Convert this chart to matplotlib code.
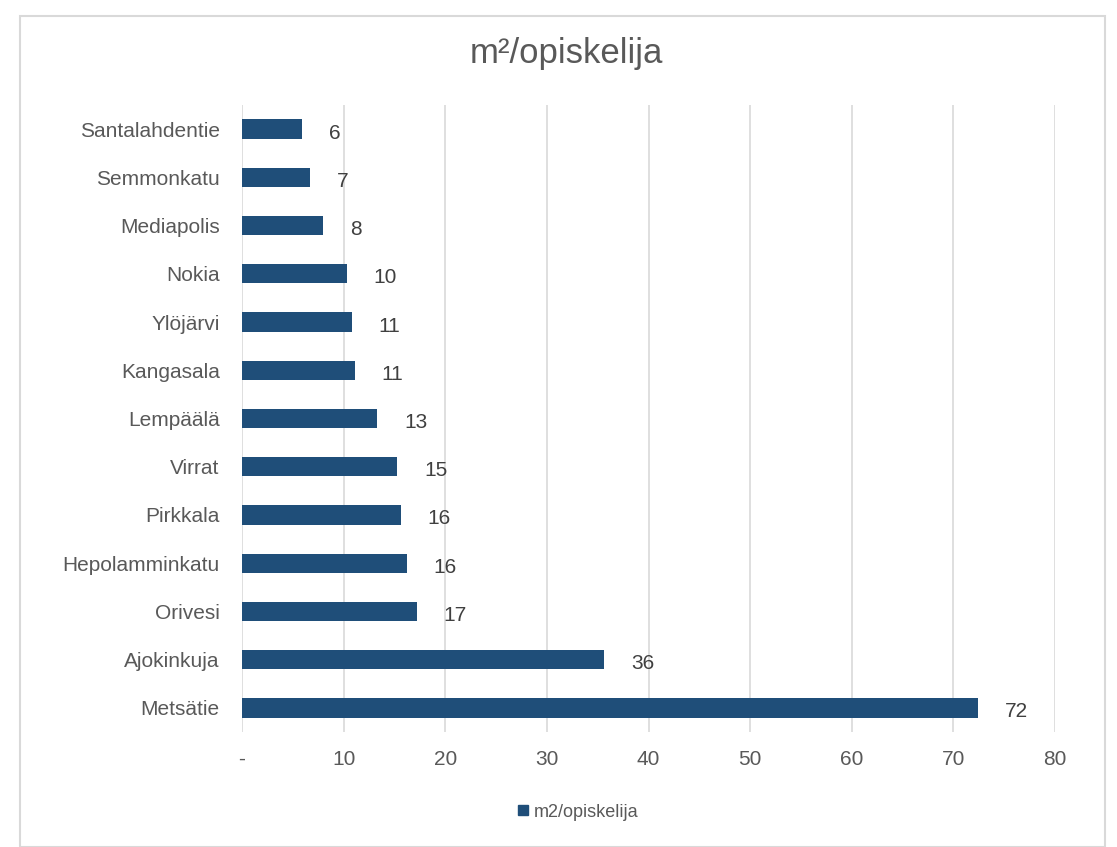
import matplotlib.pyplot as plt
from matplotlib.patches import Rectangle
from matplotlib.lines import Line2D

plt.rcParams['font.family'] = ['Liberation Sans', 'DejaVu Sans']

# data, top to bottom as in the chart
paikat = ['Santalahdentie', 'Semmonkatu', 'Mediapolis', 'Nokia', 'Ylöjärvi',
          'Kangasala', 'Lempäälä', 'Virrat', 'Pirkkala', 'Hepolamminkatu',
          'Orivesi', 'Ajokinkuja', 'Metsätie']
m2_per_opiskelija = [5.9, 6.7, 8.0, 10.3, 10.8, 11.1, 13.3, 15.3, 15.6, 16.2,
                     17.2, 35.6, 72.4]
x_ticks = [0, 10, 20, 30, 40, 50, 60, 70, 80]
x_ticklabels = ['-', '10', '20', '30', '40', '50', '60', '70', '80']

bar_color = '#1f4e79'
text_gray = '#595959'

fig = plt.figure(figsize=(11.17, 8.47), dpi=100)
fig.patches.append(Rectangle((20/1117, 0), 1085/1117, 1 - 16/847,
                             transform=fig.transFigure, fill=False,
                             edgecolor='#d9d9d9', linewidth=1.5))

ax = fig.add_axes([242/1117, 1 - 732/847, (1055 - 242)/1117, (732 - 105)/847])
ypos = list(range(len(paikat)))
ax.barh(ypos, m2_per_opiskelija, height=0.4, color=bar_color, zorder=3)

for y, v in zip(ypos, m2_per_opiskelija):
    ax.annotate(f'{v:.0f}', (v, y), xytext=(27, -4), textcoords='offset pixels',
                ha='left', va='center', fontsize=15, color='#404040')

ax.set_ylim(len(paikat) - 0.5, -0.5)
ax.set_yticks(ypos)
ax.set_yticklabels(paikat, fontsize=15, color=text_gray)
ax.set_xlim(0, 80)
ax.set_xticks(x_ticks)
ax.set_xticklabels(x_ticklabels, fontsize=15, color=text_gray)
ax.tick_params(axis='both', length=0)
ax.tick_params(axis='y', pad=16)
ax.tick_params(axis='x', pad=13)
ax.grid(axis='x', color='#d9d9d9', linewidth=1.2, zorder=0)
for s in ax.spines.values():
    s.set_visible(False)

fig.text(566/1117, 1 - 54/847, 'm²/opiskelija', ha='center', va='center',
         fontsize=25, color=text_gray)

handle = Line2D([], [], marker='s', linestyle='none', color=bar_color, markersize=7)
fig.legend([handle], ['m2/opiskelija'], loc='center', bbox_to_anchor=(576/1117, 1 - 812/847),
           frameon=False, fontsize=13, handletextpad=0.1, labelcolor=text_gray,
           handlelength=1)

fig.savefig('out.png', dpi=100)
